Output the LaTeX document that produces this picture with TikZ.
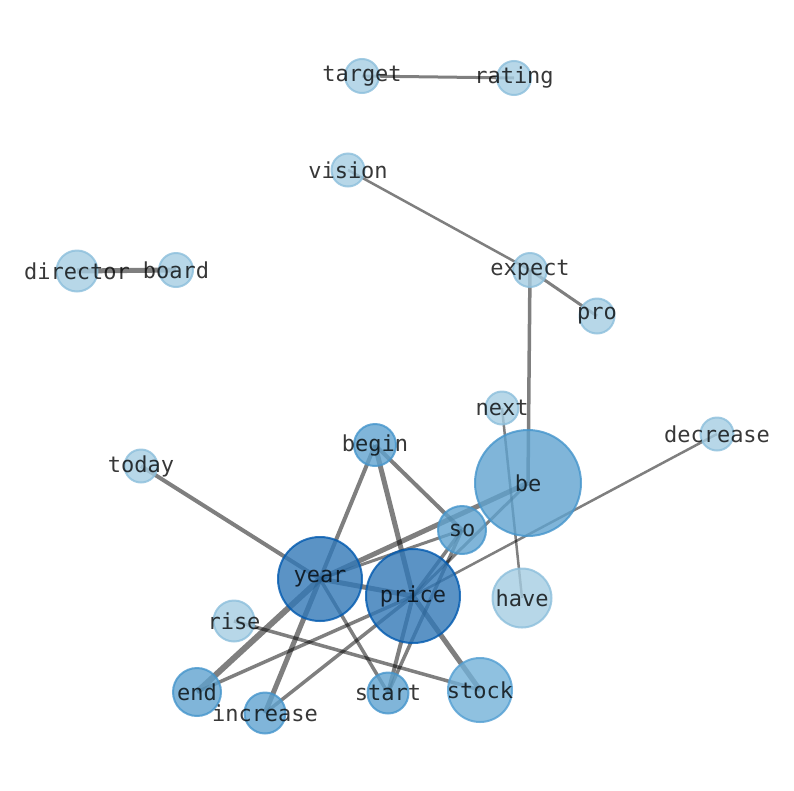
\documentclass[tikz,border=0pt]{standalone}
\usepackage{fontspec}
\setmonofont{DejaVu Sans Mono}
\usetikzlibrary{backgrounds}
\definecolor{lightF}{RGB}{165,205,226}
\definecolor{lightD}{RGB}{140,191,220}
\definecolor{medF}{RGB}{96,163,207}
\definecolor{medD}{RGB}{69,149,204}
\definecolor{stkF}{RGB}{115,177,216}
\definecolor{stkD}{RGB}{83,159,211}
\definecolor{darkF}{RGB}{50,120,183}
\definecolor{darkD}{RGB}{0,89,175}
\tikzset{
  wnode/.style={circle, inner sep=0pt, line width=2pt, opacity=0.8, text opacity=0.78,
    text=black, font=\ttfamily\fontsize{22}{24}\selectfont},
  lightnode/.style={wnode, fill=lightF, draw=lightD},
  mednode/.style={wnode, fill=medF, draw=medD},
  stknode/.style={wnode, fill=stkF, draw=stkD},
  darknode/.style={wnode, fill=darkF, draw=darkD},
  wedge/.style={draw=black, draw opacity=0.5, line width=#1},
}
\newcommand{\lbl}[1]{\makebox[0pt]{#1}}
\begin{document}
\begin{tikzpicture}[x=1pt,y=-1pt]
\useasboundingbox (0,0) rectangle (794,790);
% nodes
\node[lightnode, minimum size=34] (target) at (362,76) {\lbl{target}};
\node[lightnode, minimum size=34] (rating) at (514,78) {\lbl{rating}};
\node[lightnode, minimum size=33] (vision) at (348,170) {\lbl{vision}};
\node[lightnode, minimum size=41] (director) at (77,271) {\lbl{director}};
\node[lightnode, minimum size=34] (board) at (176,270) {\lbl{board}};
\node[lightnode, minimum size=34] (expect) at (530,270) {\lbl{expect}};
\node[lightnode, minimum size=35] (pro) at (597,316) {\lbl{pro}};
\node[lightnode, minimum size=33] (next) at (502,408) {\lbl{next}};
\node[lightnode, minimum size=33] (decrease) at (717,434) {\lbl{decrease}};
\node[lightnode, minimum size=33] (today) at (141,466) {\lbl{today}};
\node[mednode, minimum size=42] (begin) at (375,445) {\lbl{begin}};
\node[mednode, minimum size=106] (be) at (528,483) {\lbl{be}};
\node[mednode, minimum size=48] (so) at (462,530) {\lbl{so}};
\node[darknode, minimum size=84] (year) at (320,579) {\lbl{year}};
\node[darknode, minimum size=94] (price) at (413,596) {\lbl{price}};
\node[lightnode, minimum size=59] (have) at (522,598) {\lbl{have}};
\node[lightnode, minimum size=41] (rise) at (234,621) {\lbl{rise}};
\node[mednode, minimum size=48] (end) at (197,692) {\lbl{end}};
\node[mednode, minimum size=41] (increase) at (265,713) {\lbl{increase}};
\node[mednode, minimum size=41] (start) at (388,693) {\lbl{start}};
\node[stknode, minimum size=64] (stock) at (480,690) {\lbl{stock}};
% edges
\begin{scope}[on background layer]
\draw[wedge=3] (target.center) -- (rating.center);
\draw[wedge=5] (director.center) -- (board.center);
\draw[wedge=2.5] (vision.center) -- (expect.center);
\draw[wedge=3] (expect.center) -- (pro.center);
\draw[wedge=3.5] (expect.center) -- (be.center);
\draw[wedge=2.5] (next.center) -- (have.center);
\draw[wedge=2.5] (decrease.center) -- (price.center);
\draw[wedge=4] (today.center) -- (year.center);
\draw[wedge=4] (begin.center) -- (year.center);
\draw[wedge=5] (begin.center) -- (price.center);
\draw[wedge=4] (begin.center) -- (so.center);
\draw[wedge=5] (year.center) -- (price.center);
\draw[wedge=5] (year.center) -- (be.center);
\draw[wedge=3] (year.center) -- (so.center);
\draw[wedge=6] (year.center) -- (end.center);
\draw[wedge=5] (year.center) -- (increase.center);
\draw[wedge=3.5] (year.center) -- (start.center);
\draw[wedge=5] (price.center) -- (stock.center);
\draw[wedge=4] (price.center) -- (start.center);
\draw[wedge=3.5] (price.center) -- (increase.center);
\draw[wedge=3.5] (price.center) -- (end.center);
\draw[wedge=3] (price.center) -- (be.center);
\draw[wedge=3.5] (price.center) -- (so.center);
\draw[wedge=3.5] (so.center) -- (start.center);
\draw[wedge=3.5] (rise.center) -- (stock.center);
\end{scope}
\end{tikzpicture}
\end{document}
